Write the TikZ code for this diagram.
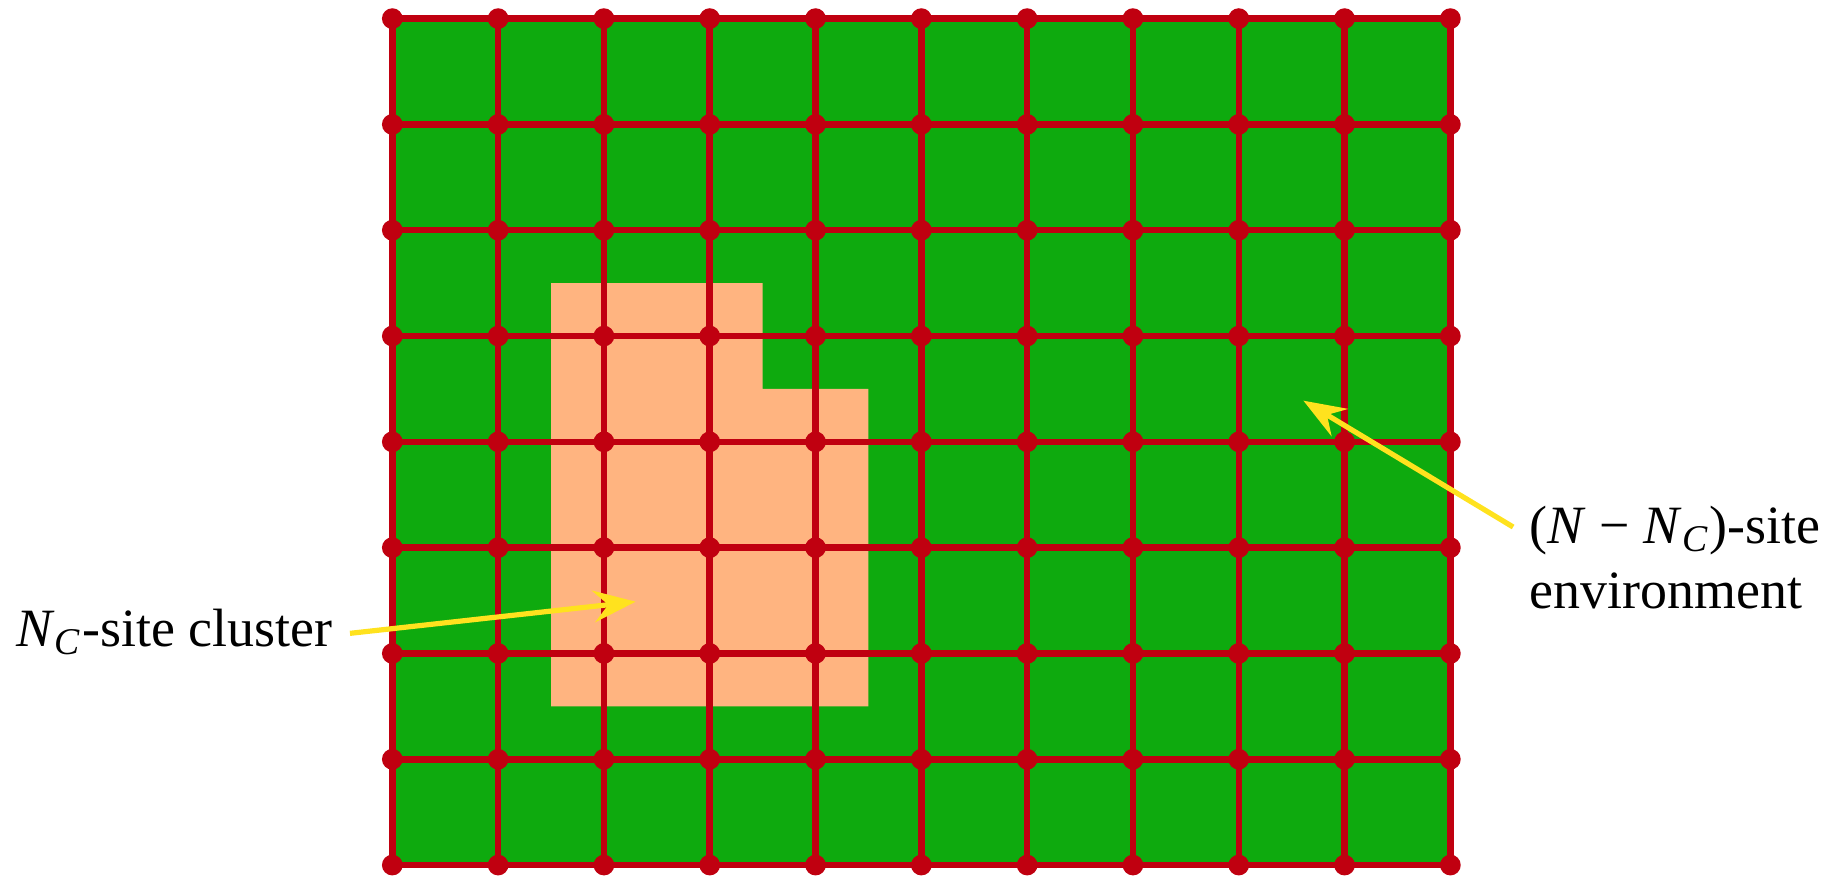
\documentclass[tikz,border=0pt]{standalone}
\usepackage{fontspec}
\setmainfont{Liberation Serif}
\usetikzlibrary{arrows.meta}
\definecolor{gridgreen}{RGB}{14,170,14}
\definecolor{gridred}{RGB}{192,0,16}
\definecolor{clusterorange}{RGB}{255,180,128}
\definecolor{arrowyellow}{RGB}{255,226,30}
\tikzset{
  bond/.style={draw=gridred, line width=1.75pt},
  site/.style={fill=gridred},
  pointer/.style={draw=arrowyellow, line width=1.4pt,
    -{Stealth[length=0.40cm,width=0.30cm,inset=0.14cm]}},
  label/.style={font=\fontsize{14.5}{17.4}\selectfont, inner sep=0pt, text=black}
}
\begin{document}
\begin{tikzpicture}
\useasboundingbox (-3.708,-0.0945) rectangle (13.73,8.176);
% environment
\fill[gridgreen] (0,0) rectangle (10,8);
% cluster
\fill[clusterorange] (1.5,1.5) -- (4.5,1.5) -- (4.5,4.5) -- (3.5,4.5) -- (3.5,5.5) -- (1.5,5.5) -- cycle;
% lattice bonds
\foreach \x in {0,...,10} \draw[bond] (\x,0) -- (\x,8);
\foreach \y in {0,...,8} \draw[bond] (0,\y) -- (10,\y);
% lattice sites
\foreach \x in {0,...,10} \foreach \y in {0,...,8} \fill[site] (\x,\y) circle (0.098);
% labels
\node[label, anchor=base east] (cl) at (-0.56,2.063) {\textit{N}\textsubscript{\textit{C}}-site cluster};
\node[label, anchor=base west, align=left] (env) at (10.744,2.429) {(\textit{N} − \textit{N}\textsubscript{\textit{C}})-site\\environment};
% pointers
\coordinate (a1s) at (-0.40,2.19);
\coordinate (a1e) at (2.30,2.489);
\coordinate (a2s) at (10.593,3.195);
\coordinate (a2e) at (8.611,4.389);
\draw[pointer] (a1s) -- (a1e);
\draw[pointer] (a2s) -- (a2e);
\end{tikzpicture}
\end{document}
